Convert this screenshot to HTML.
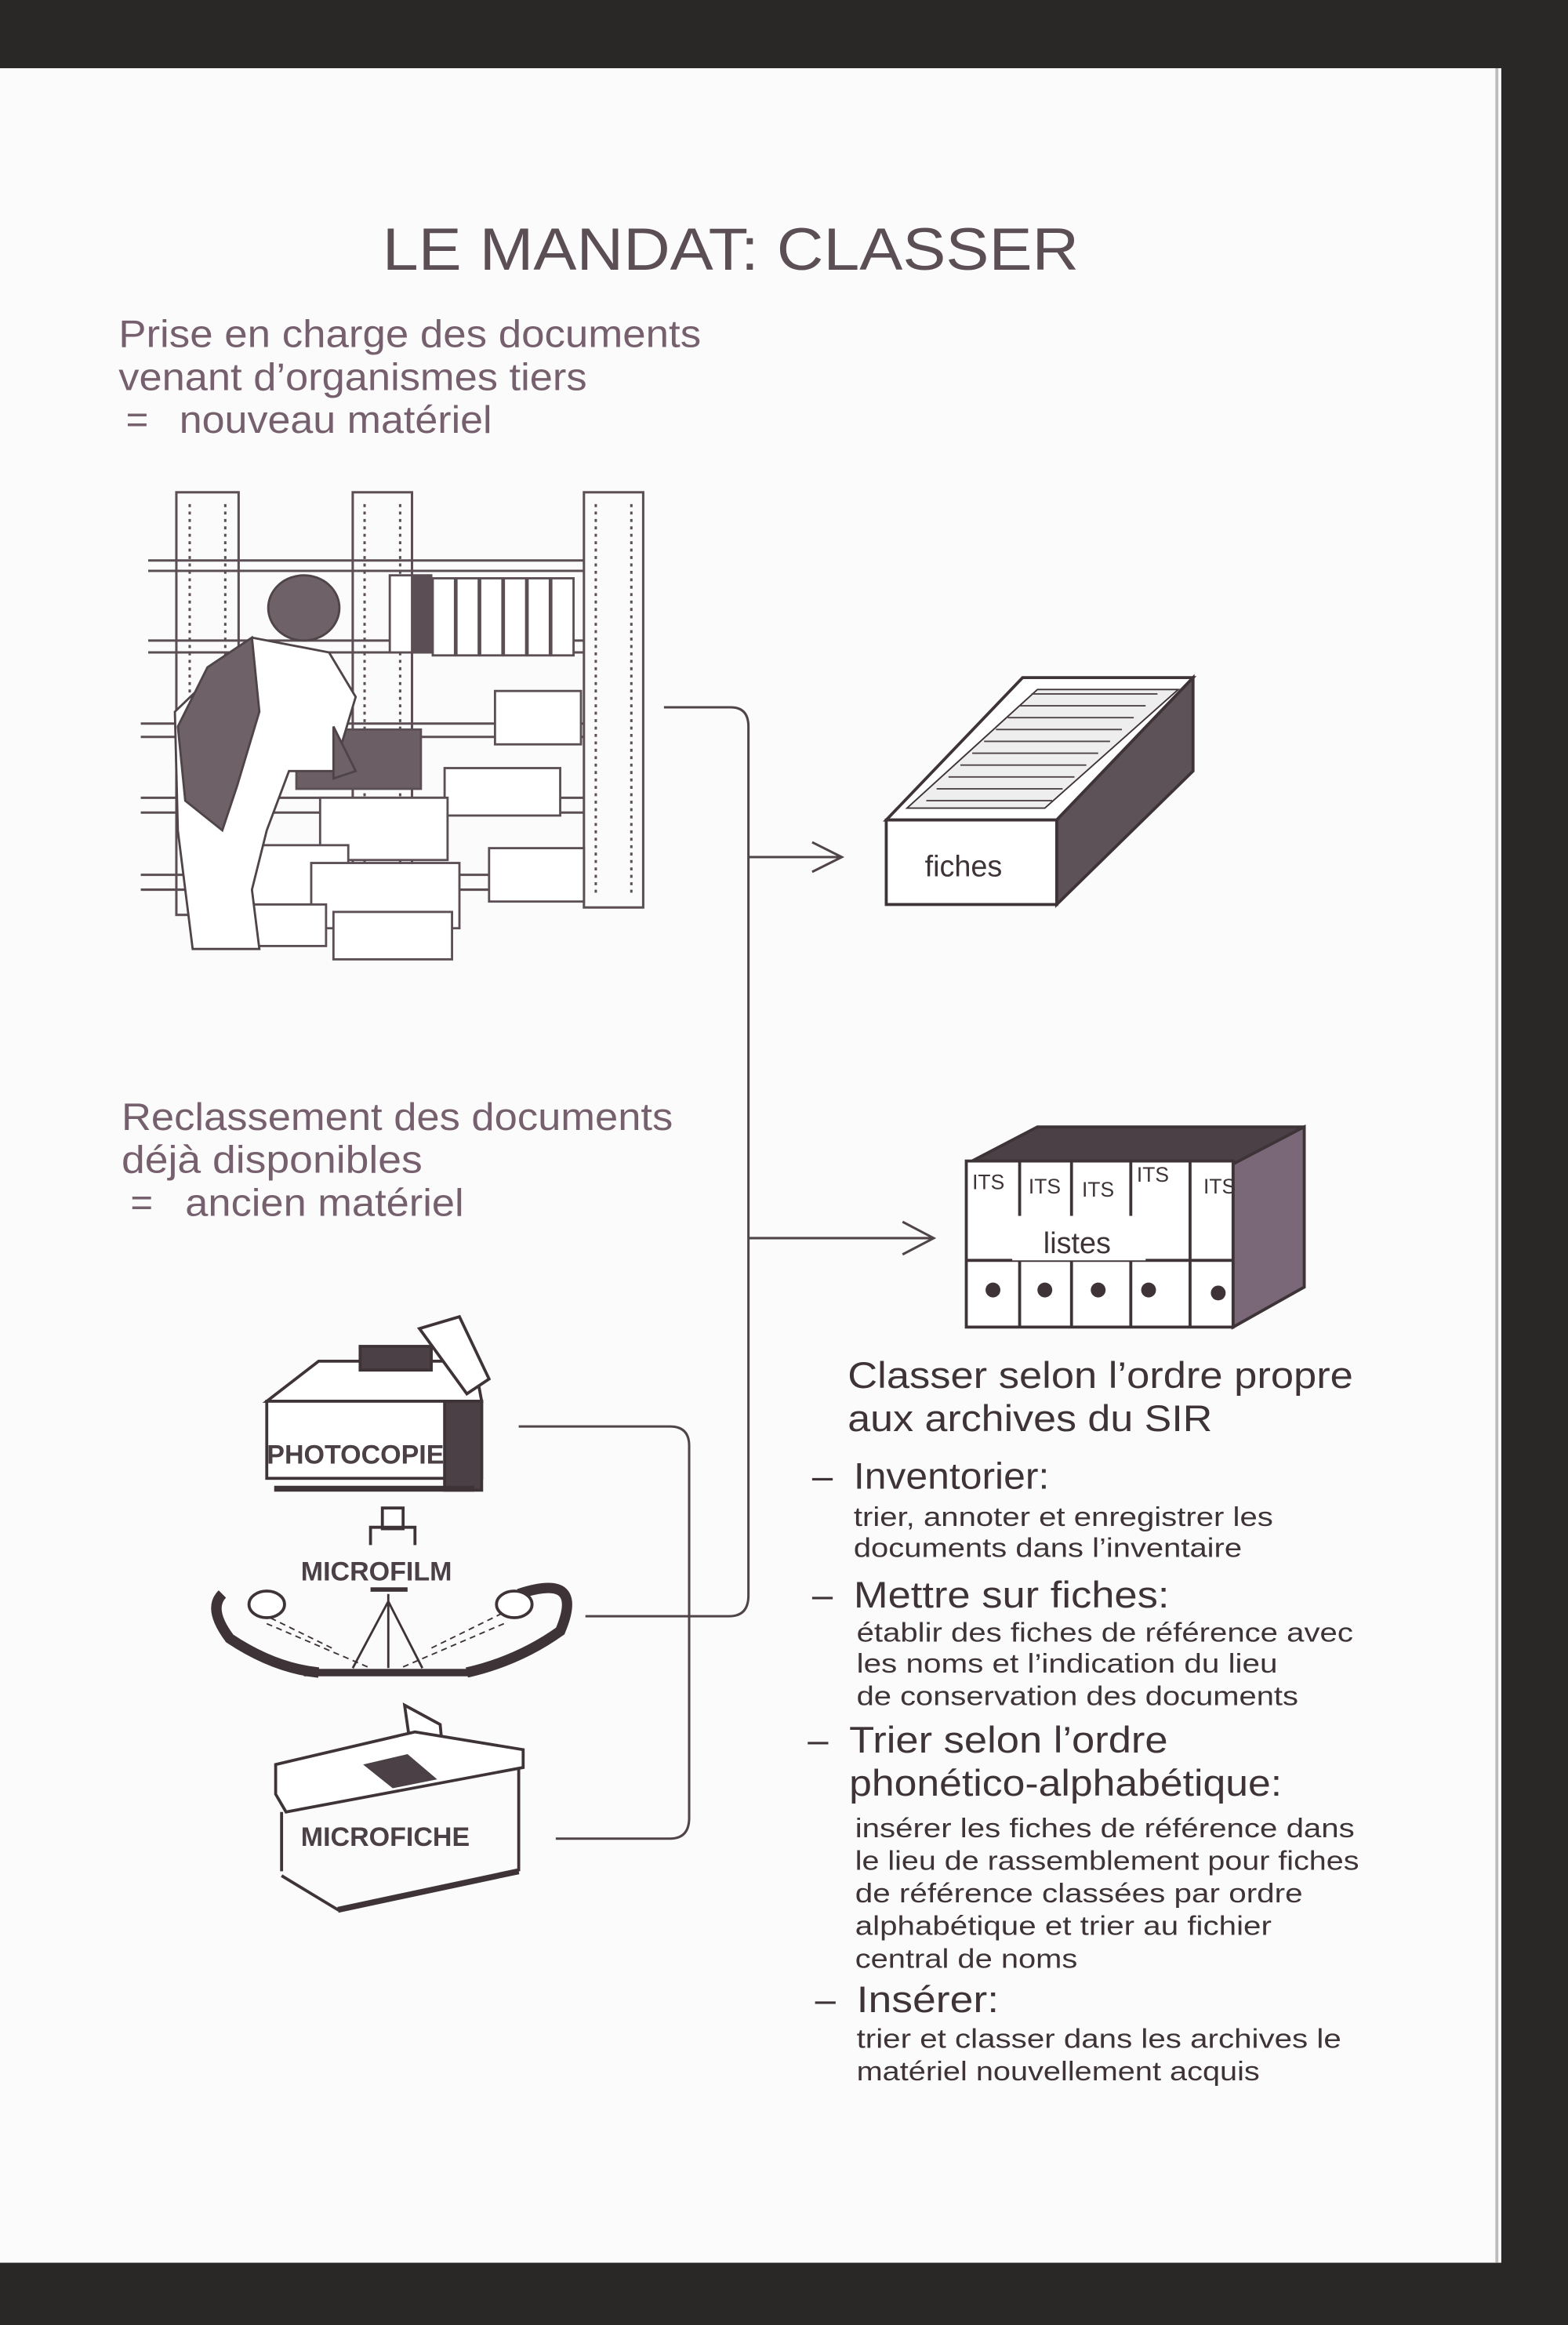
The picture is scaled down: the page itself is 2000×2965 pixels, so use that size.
<!DOCTYPE html>
<html><head><meta charset="utf-8"><style>
html,body{margin:0;padding:0;background:#fff;}
svg{display:block;}
text{font-family:"Liberation Sans",Arial,sans-serif;}
</style></head><body>
<svg width="2000" height="2965" viewBox="0 0 1058 1568" preserveAspectRatio="none" xmlns="http://www.w3.org/2000/svg">
<rect width="1058" height="1568" fill="#fbfbfb"/>
<rect x="0" y="0" width="1058" height="46" fill="#2a2727"/>
<rect x="1013" y="0" width="45" height="1568" fill="#2a2727"/>
<rect x="0" y="1526" width="1058" height="42" fill="#2a2727"/>
<line x1="1010" y1="46" x2="1010" y2="1526" stroke="#bbb" stroke-width="2"/>

<g fill="#5b4f55">
<text x="258" y="182" font-size="40" textLength="470" lengthAdjust="spacingAndGlyphs">LE MANDAT: CLASSER</text>
</g>
<g fill="#76606e" font-size="26">
<text x="80" y="234" textLength="393" lengthAdjust="spacingAndGlyphs">Prise en charge des documents</text>
<text x="80" y="263" textLength="316" lengthAdjust="spacingAndGlyphs">venant d’organismes tiers</text>
<text x="85" y="292">=</text><text x="121" y="292" textLength="211" lengthAdjust="spacingAndGlyphs">nouveau matériel</text>
<text x="82" y="762" textLength="372" lengthAdjust="spacingAndGlyphs">Reclassement des documents</text>
<text x="82" y="791" textLength="203" lengthAdjust="spacingAndGlyphs">déjà disponibles</text>
<text x="88" y="820">=</text><text x="125" y="820" textLength="188" lengthAdjust="spacingAndGlyphs">ancien matériel</text>
</g>
<g fill="#3e3438">
<text x="572" y="936" font-size="25" textLength="341" lengthAdjust="spacingAndGlyphs">Classer selon l’ordre propre</text>
<text x="572" y="965" font-size="25" textLength="246" lengthAdjust="spacingAndGlyphs">aux archives du SIR</text>
<text x="548" y="1004" font-size="25">–</text><text x="576" y="1004" font-size="25" textLength="132" lengthAdjust="spacingAndGlyphs">Inventorier:</text>
<text x="576" y="1029" font-size="18" textLength="283" lengthAdjust="spacingAndGlyphs">trier, annoter et enregistrer les</text>
<text x="576" y="1050" font-size="18" textLength="262" lengthAdjust="spacingAndGlyphs">documents dans l’inventaire</text>
<text x="548" y="1084" font-size="25">–</text><text x="576" y="1084" font-size="25" textLength="213" lengthAdjust="spacingAndGlyphs">Mettre sur fiches:</text>
<text x="578" y="1107" font-size="18" textLength="335" lengthAdjust="spacingAndGlyphs">établir des fiches de référence avec</text>
<text x="578" y="1128" font-size="18" textLength="284" lengthAdjust="spacingAndGlyphs">les noms et l’indication du lieu</text>
<text x="578" y="1150" font-size="18" textLength="298" lengthAdjust="spacingAndGlyphs">de conservation des documents</text>
<text x="545" y="1182" font-size="25">–</text><text x="573" y="1182" font-size="25" textLength="215" lengthAdjust="spacingAndGlyphs">Trier selon l’ordre</text>
<text x="573" y="1211" font-size="25" textLength="292" lengthAdjust="spacingAndGlyphs">phonético-alphabétique:</text>
<text x="577" y="1239" font-size="18" textLength="337" lengthAdjust="spacingAndGlyphs">insérer les fiches de référence dans</text>
<text x="577" y="1261" font-size="18" textLength="340" lengthAdjust="spacingAndGlyphs">le lieu de rassemblement pour fiches</text>
<text x="577" y="1283" font-size="18" textLength="302" lengthAdjust="spacingAndGlyphs">de référence classées par ordre</text>
<text x="577" y="1305" font-size="18" textLength="281" lengthAdjust="spacingAndGlyphs">alphabétique et trier au fichier</text>
<text x="577" y="1327" font-size="18" textLength="150" lengthAdjust="spacingAndGlyphs">central de noms</text>
<text x="550" y="1357" font-size="25">–</text><text x="578" y="1357" font-size="25" textLength="96" lengthAdjust="spacingAndGlyphs">Insérer:</text>
<text x="578" y="1381" font-size="18" textLength="327" lengthAdjust="spacingAndGlyphs">trier et classer dans les archives le</text>
<text x="578" y="1403" font-size="18" textLength="272" lengthAdjust="spacingAndGlyphs">matériel nouvellement acquis</text>
</g>

<!-- connectors -->
<g fill="none" stroke="#4f4448" stroke-width="1.6">
<path d="M448 477 H493 Q505 477 505 490 V1076 Q505 1090 492 1090 H395"/>
<path d="M505 578 H568 M548 568 L568 578 L548 588"/>
<path d="M505 835 H630 M609 824 L630 835 L609 846"/>
<path d="M350 962 H452 Q465 962 465 975 V1226 Q465 1240 452 1240 H375"/>
</g>

<!-- shelves -->
<g fill="none" stroke="#5b4f55" stroke-width="1.6">
<rect x="119" y="332" width="42" height="285"/>
<rect x="238" y="332" width="40" height="285"/>
<rect x="394" y="332" width="40" height="280"/>
<path d="M100 378 H394 M100 385 H394 M100 432 H394 M100 440 H394 M95 488 H394 M95 497 H394 M95 538 H394 M95 548 H394 M95 590 H394 M95 600 H394"/>
<path d="M128 340 V610 M152 340 V610 M246 340 V610 M270 340 V610 M402 340 V605 M426 340 V605" stroke-dasharray="2 3"/>
</g>
<g stroke="#5b4f55" stroke-width="1.5" fill="#fff">
<rect x="263" y="388" width="15" height="52"/><rect x="279" y="388" width="12" height="52" fill="#5b4f55"/>
<rect x="292" y="390" width="15" height="52"/><rect x="308" y="390" width="15" height="52"/><rect x="324" y="390" width="15" height="52"/><rect x="340" y="390" width="15" height="52"/><rect x="356" y="390" width="15" height="52"/><rect x="372" y="390" width="15" height="52"/>
<rect x="334" y="466" width="58" height="36"/><rect x="300" y="518" width="78" height="32"/><rect x="330" y="572" width="64" height="36"/>
<rect x="200" y="492" width="84" height="40" fill="#6b5e64"/>
<rect x="216" y="538" width="86" height="42"/><rect x="155" y="570" width="80" height="40"/><rect x="210" y="582" width="100" height="44"/><rect x="225" y="615" width="80" height="32"/><rect x="160" y="610" width="60" height="28"/>
</g>
<!-- worker -->
<g fill="#6e6268" stroke="#4f4448" stroke-width="1.5">
<ellipse cx="205" cy="410" rx="24" ry="22"/>
<path d="M170 430 L222 440 L240 470 L225 520 L195 520 L180 560 L170 600 L175 640 L130 640 L120 560 L118 480 Z" fill="#fff"/>
<path d="M170 430 L140 450 L120 490 L125 540 L150 560 L160 530 L175 480 Z"/>
<path d="M225 490 L240 520 L225 525 Z"/>
</g>

<!-- fiches tray -->
<g stroke="#3e3438" stroke-width="2" fill="#fff">
<polygon points="598,553 690,457 805,457 713,553"/>
<polygon points="713,553 805,457 805,520 713,610" fill="#5d5258"/>
<rect x="598" y="553" width="115" height="57"/>
<polygon points="612,545 700,465 795,465 705,545" fill="#eee" stroke-width="1"/>
</g>
<g stroke="#4f4448" stroke-width="1">
<path d="M625 540 H710 M632 532 H717 M640 524 H725 M648 516 H733 M656 508 H741 M664 500 H749 M672 492 H757 M680 484 H765 M688 476 H773 M696 468 H781"/>
</g>
<text x="624" y="591" font-size="20" fill="#3e3438">fiches</text>

<!-- listes binders -->
<g stroke="#3e3438" stroke-width="2">
<polygon points="652,785 700,760 880,760 880,868 832,895 832,785" fill="#4a4045"/>
<polygon points="832,785 880,760 880,868 832,895" fill="#7a6878"/>
<rect x="652" y="783" width="180" height="112" fill="#fff"/>
<path d="M688 783 V895 M723 783 V895 M763 783 V895 M803 783 V895" fill="none"/>
<path d="M652 850 H832" fill="none"/>
</g>
<rect x="683" y="820" width="90" height="30" fill="#fff"/>
<g fill="#3e3438">
<text x="656" y="802" font-size="14">ITS</text><text x="694" y="805" font-size="14">ITS</text><text x="730" y="807" font-size="14">ITS</text><text x="767" y="797" font-size="14">ITS</text><text x="812" y="805" font-size="14">ITS</text>
<text x="704" y="845" font-size="20">listes</text>
<circle cx="670" cy="870" r="5"/><circle cx="705" cy="870" r="5"/><circle cx="741" cy="870" r="5"/><circle cx="775" cy="870" r="5"/><circle cx="822" cy="872" r="5"/>
</g>

<!-- photocopier -->
<g stroke="#3e3438" stroke-width="2" fill="#fff">
<polygon points="180,945 215,918 320,918 325,945"/>
<rect x="243" y="908" width="48" height="16" fill="#4a4045"/>
<polygon points="283,896 310,888 330,930 315,940" />
<rect x="180" y="945" width="145" height="52"/>
<rect x="300" y="945" width="25" height="60" fill="#4a4045"/>
<path d="M185 1004 H320" stroke-width="4"/>
<rect x="258" y="1017" width="14" height="14"/>
<path d="M250 1042 V1030 H280 V1042" fill="none"/>
</g>
<text x="180" y="987" font-size="18" font-weight="bold" fill="#4a4045">PHOTOCOPIE</text>
<!-- microfilm -->
<text x="203" y="1066" font-size="18" font-weight="bold" fill="#4a4045">MICROFILM</text>
<g stroke="#3e3438" fill="none">
<path d="M150 1075 Q140 1085 155 1105 Q185 1125 215 1128 M350 1075 Q395 1060 378 1100 Q350 1120 315 1128" stroke-width="7"/>
<path d="M205 1128 H318" stroke-width="5"/>
<path d="M170 1085 L225 1112 M345 1085 L290 1112 M180 1095 L250 1125 M340 1095 L270 1125" stroke-width="1" stroke-dasharray="4 3"/>
<path d="M262 1075 V1125 M238 1125 L262 1080 L285 1125" stroke-width="1.5"/>
<path d="M250 1072 H275" stroke-width="3"/>
<ellipse cx="180" cy="1082" rx="12" ry="9" fill="#fff" stroke-width="2"/>
<ellipse cx="347" cy="1082" rx="12" ry="9" fill="#fff" stroke-width="2"/>
</g>
<!-- microfiche -->
<g stroke="#3e3438" stroke-width="2" fill="#fff">
<polygon points="273,1150 297,1163 300,1195 278,1185"/>
<polygon points="186,1190 280,1168 353,1180 353,1192 193,1222 186,1210"/>
<polygon points="245,1190 275,1183 295,1200 265,1206" fill="#4a4045" stroke="none"/>
<path d="M190 1222 V1262 M350 1192 V1262 M190 1265 L228 1288 L350 1262" fill="none"/>
<path d="M228 1288 L350 1262" stroke-width="4"/>
</g>
<text x="203" y="1245" font-size="18" font-weight="bold" fill="#4a4045">MICROFICHE</text>
</svg>
</body></html>
